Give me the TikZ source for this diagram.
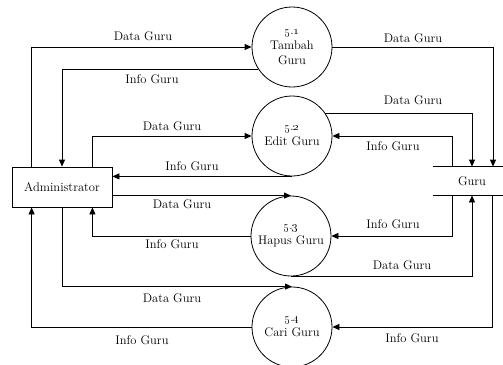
\documentclass[tikz,border=0pt]{standalone}
\usetikzlibrary{arrows.meta}
\begin{document}
\begin{tikzpicture}[x=1pt,y=-1pt,
  font=\fontsize{12.5}{15}\selectfont,
  line width=0.8pt,
  flow/.style={-{Triangle[length=7pt,width=6pt]}},
  proc/.style={circle,draw,minimum size=80pt,inner sep=0pt,align=center},
  ent/.style={draw,minimum width=100pt,minimum height=40pt,inner sep=0pt},
  lbl/.style={inner sep=0pt}]
\useasboundingbox (0,0) rectangle (503,364);
% nodes
\node[ent] (admin) at (62,187) {Administrator};
\node[proc] (p1) at (292,47) {\oldstylenums{5}.\oldstylenums{1}\\Tambah\\Guru};
\node[proc] (p2) at (292,136) {\oldstylenums{5}.\oldstylenums{2}\\Edit Guru};
\node[proc] (p3) at (291,236) {\oldstylenums{5}.\oldstylenums{3}\\Hapus Guru};
\node[proc] (p4) at (292,327) {\oldstylenums{5}.\oldstylenums{4}\\Cari Guru};
\node[minimum width=78pt,minimum height=28pt,inner sep=0pt] (guru) at (472,181) {Guru};
\draw (guru.north west) -- (guru.north east) (guru.south west) -- (guru.south east);
% left side flows
\draw[flow] ([xshift=20pt]admin.north west) |- (p1.west);
\draw[flow] (p1.213) -| (admin.north);
\draw[flow] ([xshift=-20pt]admin.north east) |- (p2.west);
\draw[flow] (p2.south) -- (p2.south -| admin.east);
\draw[flow] (admin.east |- p3.north) -- (p3.north);
\draw[flow] (p3.west) -| ([xshift=-20pt]admin.south east);
\draw[flow] (admin.south) |- (p4.north);
\draw[flow] (p4.west) -| ([xshift=20pt]admin.south west);
% right side flows
\draw[flow] (p1.east) -| ([xshift=21pt]guru.north);
\draw[flow] (p2.34) -| (guru.north);
\draw[flow] ([xshift=-20pt]guru.north) |- (p2.east);
\draw[flow] ([xshift=-20pt]guru.south) |- (p3.east);
\draw[flow] (p3.south) -| (guru.south);
\draw[flow] ([xshift=20pt]guru.south) |- (p4.east);
% labels
\node[lbl] (l1) at (143,36) {Data Guru};
\node[lbl] (l2) at (152,79) {Info Guru};
\node[lbl] (l3) at (172,126) {Data Guru};
\node[lbl] (l4) at (192,166) {Info Guru};
\node[lbl] (l5) at (182,204) {Data Guru};
\node[lbl] (l6) at (172,244) {Info Guru};
\node[lbl] (l7) at (172,298) {Data Guru};
\node[lbl] (l8) at (142,340) {Info Guru};
\node[lbl] (l9) at (413,38) {Data Guru};
\node[lbl] (l10) at (413,100) {Data Guru};
\node[lbl] (l11) at (393,146) {Info Guru};
\node[lbl] (l12) at (393,224) {Info Guru};
\node[lbl] (l13) at (402,265) {Data Guru};
\node[lbl] (l14) at (412,338) {Info Guru};
\end{tikzpicture}
\end{document}
